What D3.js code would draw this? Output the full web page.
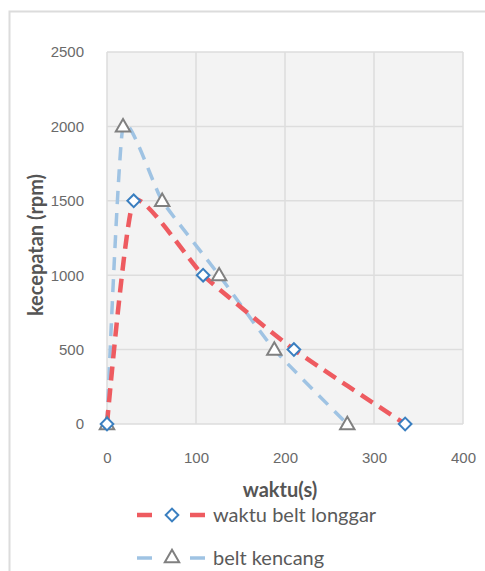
<!DOCTYPE html>
<html>
<head>
  <meta charset="UTF-8">
  <style>
    body { margin: 0; background: #fff; }
    svg { display: block; font-family: Lato, "Open Sans", sans-serif; }
  </style>
</head>
<body>
<svg></svg>
<script src="https://d3js.org/d3.v7.min.js"></script>
<script>

let width = 485, height = 571;

// data
let waktuLonggar = [0, 30, 108, 210, 335];
let rpmLonggar   = [0, 1500, 1000, 500, 0];
let waktuKencang = [0, 18, 62, 126, 188, 270];
let rpmKencang   = [0, 2000, 1500, 1000, 500, 0];
let xTicks = [0, 100, 200, 300, 400];
let yTicks = [0, 500, 1000, 1500, 2000, 2500];
let seriesNames = ["waktu belt longgar", "belt kencang"];

let svg = d3.select("svg")
    .attr("width", width)
    .attr("height", height);

// chart frame
svg.append("path")
    .attr("d", "M9.5," + height + "V11.5H" + width)
    .attr("fill", "none")
    .attr("stroke", "#dcdcdc")
    .attr("stroke-width", 2);

let x = d3.scaleLinear().domain([0, 400]).range([107, 463]);
let y = d3.scaleLinear().domain([0, 2500]).range([424, 52]);

// plot area
svg.append("rect")
    .attr("x", x(0))
    .attr("y", y(2500))
    .attr("width", x(400) - x(0))
    .attr("height", y(0) - y(2500))
    .attr("fill", "#f3f3f3");

let grid = svg.append("g").attr("stroke", "#dddddd").attr("stroke-width", 1.5);
grid.selectAll(".gx").data(xTicks).enter().append("line")
    .attr("x1", d => x(d)).attr("x2", d => x(d))
    .attr("y1", y(0)).attr("y2", y(2500));
grid.selectAll(".gy").data(yTicks).enter().append("line")
    .attr("x1", x(0)).attr("x2", x(400))
    .attr("y1", d => y(d)).attr("y2", d => y(d));

// axes (labels only, like excel)
let xAxis = svg.append("g")
    .attr("transform", "translate(0," + (y(0) + 34) + ")")
    .call(d3.axisBottom(x).tickValues(xTicks).tickFormat(d3.format("d")).tickSize(0).tickPadding(0));
let yAxis = svg.append("g")
    .attr("transform", "translate(" + (x(0) - 23) + ",0)")
    .call(d3.axisLeft(y).tickValues(yTicks).tickFormat(d3.format("d")).tickSize(0).tickPadding(0));
[xAxis, yAxis].forEach(a => {
    a.select(".domain").remove();
    a.selectAll("text").attr("fill", "#6a6a6a").attr("font-size", "15px");
});
xAxis.selectAll("text").attr("dy", "0.35em");

svg.append("text")
    .attr("x", 280).attr("y", 490)
    .attr("dy", "0.35em")
    .attr("text-anchor", "middle")
    .attr("font-size", "20px").attr("font-weight", "bold")
    .attr("fill", "#555")
    .text("waktu(s)");

svg.append("text")
    .attr("transform", "translate(36,245) rotate(-90)")
    .attr("dy", "0.35em")
    .attr("text-anchor", "middle")
    .attr("font-size", "20px").attr("font-weight", "bold")
    .attr("fill", "#555")
    .text("kecepatan (rpm)");

let longgar = waktuLonggar.map((w, i) => [w, rpmLonggar[i]]);
let kencang = waktuKencang.map((w, i) => [w, rpmKencang[i]]);

let line = d3.line()
    .x(d => x(d[0]))
    .y(d => y(d[1]))
    .curve(d3.curveCardinal.tension(0.5));

svg.append("path")
    .attr("d", line(kencang))
    .attr("fill", "none")
    .attr("stroke", "#9fc3e3")
    .attr("stroke-width", 3.5)
    .attr("stroke-dasharray", "13,9");

svg.append("path")
    .attr("d", line(longgar))
    .attr("fill", "none")
    .attr("stroke", "#ee5b60")
    .attr("stroke-width", 4.5)
    .attr("stroke-dasharray", "14,8");

let diamond = d3.symbol(d3.symbolSquare, 80);
let triangle = d3.symbol(d3.symbolTriangle, 90);

svg.append("g").selectAll("path")
    .data(kencang).enter().append("path")
    .attr("d", triangle)
    .attr("transform", d => "translate(" + x(d[0]) + "," + (y(d[1]) + 1) + ")")
    .attr("fill", "#fff")
    .attr("stroke", "#808080")
    .attr("stroke-width", 2);

svg.append("g").selectAll("path")
    .data(longgar).enter().append("path")
    .attr("d", diamond)
    .attr("transform", d => "translate(" + x(d[0]) + "," + y(d[1]) + ") rotate(45)")
    .attr("fill", "#fff")
    .attr("stroke", "#3a7fc0")
    .attr("stroke-width", 2);

// legend
let legend = svg.append("g");
let rows = [
    {name: seriesNames[0], color: "#ee5b60", w: 4.5, stroke: "#3a7fc0", sym: diamond, rot: 45},
    {name: seriesNames[1], color: "#9fc3e3", w: 3.5, stroke: "#808080", sym: triangle, rot: 0}
];
rows.forEach((r, i) => {
    let ly = 515 + i * 43;
    legend.append("line").attr("x1", 137).attr("x2", 152).attr("y1", ly).attr("y2", ly)
        .attr("stroke", r.color).attr("stroke-width", r.w);
    legend.append("line").attr("x1", 190).attr("x2", 205).attr("y1", ly).attr("y2", ly)
        .attr("stroke", r.color).attr("stroke-width", r.w);
    legend.append("path").attr("d", r.sym)
        .attr("transform", "translate(172," + ly + ") rotate(" + r.rot + ")")
        .attr("fill", "#fff").attr("stroke", r.stroke).attr("stroke-width", 2);
    legend.append("text").attr("x", 213).attr("y", ly).attr("dy", "0.35em")
        .attr("font-size", "20px").attr("fill", "#5a5a5a")
        .text(r.name);
});

</script>
</body>
</html>
